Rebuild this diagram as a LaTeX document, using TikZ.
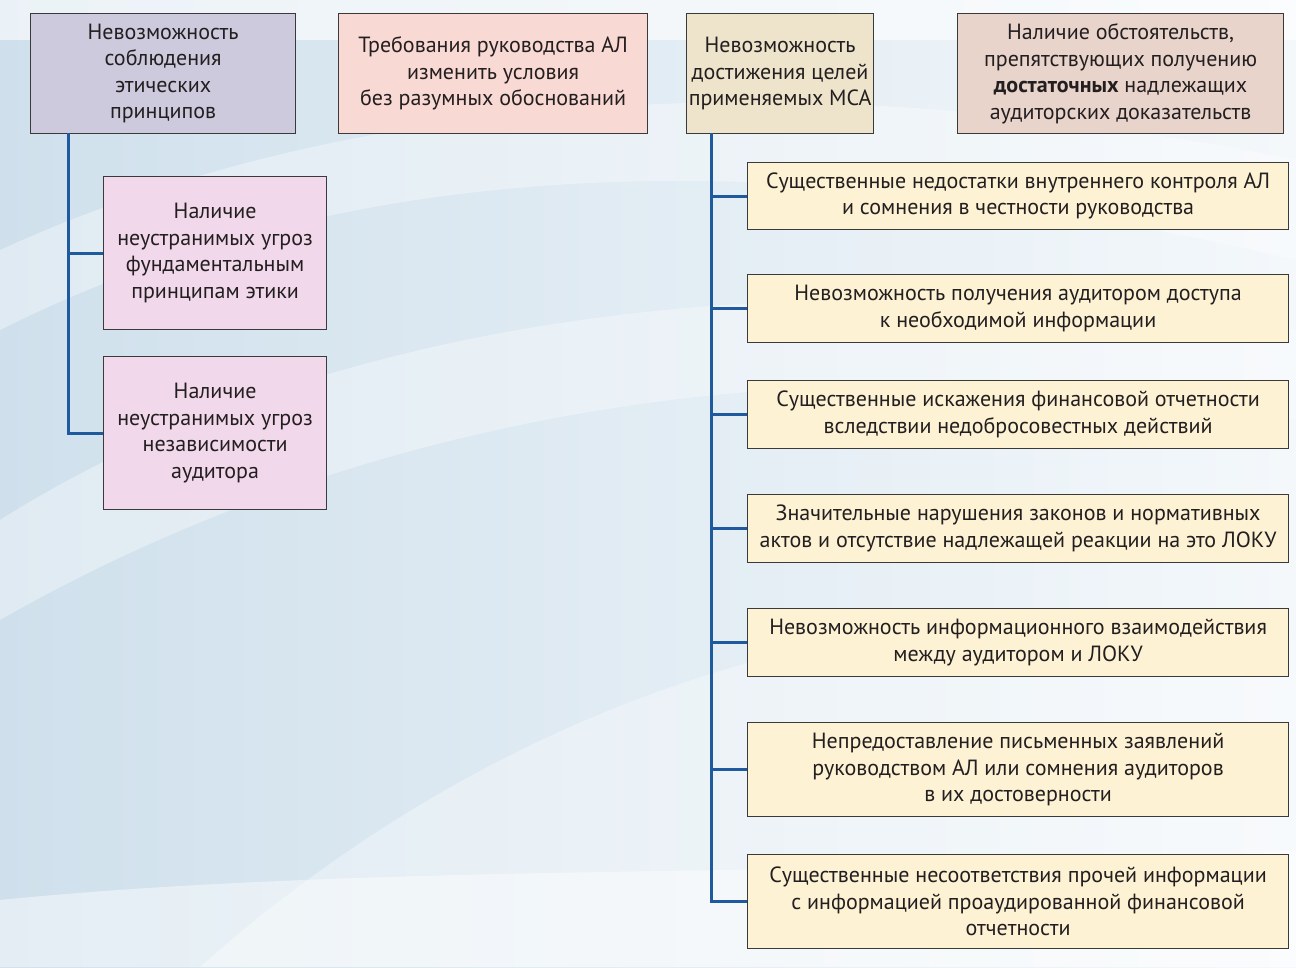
\documentclass[tikz,border=0pt]{standalone}
\usepackage{fontspec}
\setmainfont{PT Sans}
\usetikzlibrary{calc}
\definecolor{bgA}{HTML}{CFE0EC}
\definecolor{bgB}{HTML}{F4F8FB}
\definecolor{cB1}{HTML}{CDCADD}
\definecolor{cB2}{HTML}{F9D9D3}
\definecolor{cB3}{HTML}{EEE3CB}
\definecolor{cB4}{HTML}{E8D4CB}
\definecolor{cL}{HTML}{F2D8EB}
\definecolor{cR}{HTML}{FEF2D4}
\definecolor{edge}{HTML}{3A3A3A}
\definecolor{conn}{HTML}{1F5A9E}
\definecolor{txt}{HTML}{231F20}
\tikzset{
  box/.style={draw=edge, line width=1.2pt, anchor=north west, inner sep=0pt,
    align=center, font=\fontsize{22}{26.5}\selectfont, text=txt},
  connline/.style={draw=conn, line width=3pt},
  wave/.style={fill=white, opacity=0.35, draw=none}
}
\begin{document}
\begin{tikzpicture}[x=1pt, y=-1pt]
% background
\useasboundingbox (0,0) rectangle (1296,967);
\shade[left color=bgA, right color=bgB] (0,0) rectangle (1296,967);
\fill[white, opacity=0.6] (0,0) rectangle (1296,40);
\fill[wave] (0,330) .. controls (300,180) and (700,120) .. (1296,260) -- (1296,160) .. controls (800,60) and (350,90) .. (0,250) -- cycle;
\fill[wave] (0,620) .. controls (350,420) and (800,330) .. (1296,420) -- (1296,330) .. controls (750,250) and (300,330) .. (0,520) -- cycle;
\fill[wave] (200,967) .. controls (500,700) and (900,560) .. (1296,640) -- (1296,967) -- cycle;
\fill[white, opacity=0.45] (0,900) .. controls (400,860) and (900,880) .. (1296,850) -- (1296,967) -- (0,967) -- cycle;

% top row
\node[box, fill=cB1, minimum width=265pt, minimum height=120pt] (B1) at (30,13)
  {Невозможность\\соблюдения\\этических\\принципов};
\node[box, fill=cB2, minimum width=309pt, minimum height=120pt] (B2) at (338,13)
  {Требования руководства АЛ\\изменить условия\\без разумных обоснований};
\node[box, fill=cB3, minimum width=187pt, minimum height=120pt] (B3) at (686,13)
  {Невозможность\\достижения целей\\применяемых МСА};
\node[box, fill=cB4, minimum width=326pt, minimum height=120pt] (B4) at (957,13)
  {Наличие обстоятельств,\\препятствующих получению\\\textbf{достаточных} надлежащих\\аудиторских доказательств};

% left children
\node[box, fill=cL, minimum width=223pt, minimum height=153pt] (L1) at (103,176)
  {Наличие\\неустранимых угроз\\фундаментальным\\принципам этики};
\node[box, fill=cL, minimum width=223pt, minimum height=153pt] (L2) at (103,356)
  {Наличие\\неустранимых угроз\\независимости\\аудитора};

% right children
\node[box, fill=cR, minimum width=541pt, minimum height=67pt] (R1) at (747,162)
  {Существенные недостатки внутреннего контроля АЛ\\и сомнения в честности руководства};
\node[box, fill=cR, minimum width=541pt, minimum height=68pt] (R2) at (747,274)
  {Невозможность получения аудитором доступа\\к необходимой информации};
\node[box, fill=cR, minimum width=541pt, minimum height=68pt] (R3) at (747,380)
  {Существенные искажения финансовой отчетности\\вследствии недобросовестных действий};
\node[box, fill=cR, minimum width=541pt, minimum height=68pt] (R4) at (747,494)
  {Значительные нарушения законов и нормативных\\актов и отсутствие надлежащей реакции на это ЛОКУ};
\node[box, fill=cR, minimum width=541pt, minimum height=68pt] (R5) at (747,608)
  {Невозможность информационного взаимодействия\\между аудитором и ЛОКУ};
\node[box, fill=cR, minimum width=541pt, minimum height=94pt] (R6) at (747,722)
  {Непредоставление письменных заявлений\\руководством АЛ или сомнения аудиторов\\в их достоверности};
\node[box, fill=cR, minimum width=541pt, minimum height=94pt] (R7) at (747,854)
  {Существенные несоответствия прочей информации\\с информацией проаудированной финансовой\\отчетности};

% connectors
\coordinate (v1) at (68,133);
\coordinate (v2) at (711,133);
\draw[connline] (v1) |- (L2.west);
\draw[connline] (L1.west) -- (L1.west -| v1);
\draw[connline] (v2) |- (R7.west);
\foreach \r in {R1,R2,R3,R4,R5,R6} {
  \draw[connline] (\r.west) -- (\r.west -| v2);
}
\end{tikzpicture}
\end{document}
